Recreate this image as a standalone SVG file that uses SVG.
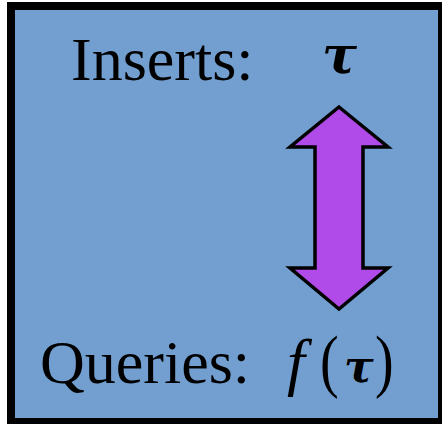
<svg xmlns="http://www.w3.org/2000/svg" width="442" height="424" viewBox="0 0 442 424">
<style>
.lbl{font-family:"Liberation Serif","Times New Roman",serif;font-size:62px;fill:#000}
.math{font-family:"Liberation Serif","Times New Roman",serif;font-style:italic;fill:#000}
.tau{font-family:"DejaVu Serif",serif;font-style:italic;font-weight:bold;fill:#000}
.par{font-family:"Liberation Serif","Times New Roman",serif;font-size:70px;fill:#000}
</style>
<rect width="442" height="424" fill="#fff"/>
<g id="box">
<rect x="11" y="6" width="431" height="416" fill="#729fcf" stroke="#000" stroke-width="8"/>
</g>
<g id="inserts">
<text class="lbl" x="71" y="80">Inserts:</text>
<text class="tau" x="322" y="73" font-size="52">τ</text>
</g>
<g id="queries">
<text class="lbl" x="40" y="383">Queries:</text>
<text class="math" x="287" y="383" font-size="64">f</text>
<text class="par" transform="translate(320 384) scale(0.8 1)" x="0" y="0">(</text>
<text class="tau" x="344" y="382" font-size="44">τ</text>
<text class="par" transform="translate(375 384) scale(0.8 1)" x="0" y="0">)</text>
</g>
<g id="connectors">
<path d="M339 107 L388 147 L363 147 L363 268 L388 268 L339 309 L290 268 L315 268 L315 147 L290 147 Z" fill="#b04ae8" stroke="#000" stroke-width="3.5" stroke-linejoin="miter"/>
</g>
</svg>
